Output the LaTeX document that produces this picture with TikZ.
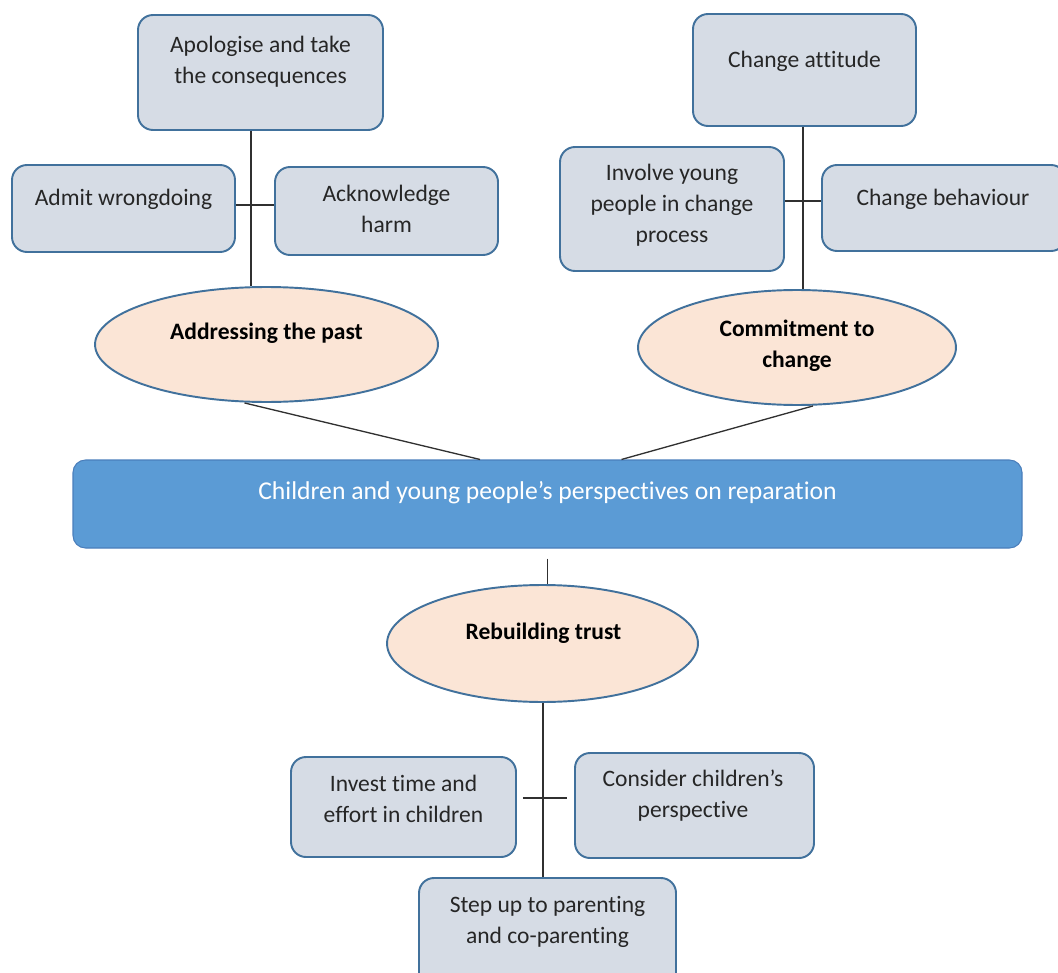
\documentclass[tikz,border=0pt]{standalone}
\usepackage{fontspec}
\setmainfont[Ligatures=NoCommon]{Carlito}
\usetikzlibrary{shapes.geometric,fit}
\definecolor{boxfill}{HTML}{D6DCE5}
\definecolor{boxedge}{HTML}{41719C}
\definecolor{ellfill}{HTML}{FBE5D6}
\definecolor{mainfill}{HTML}{5B9BD5}
\definecolor{mainedge}{HTML}{4A7EBB}
\definecolor{linecol}{HTML}{303030}
\begin{document}
\begin{tikzpicture}[x=0.02cm,y=-0.02cm,
 box/.style={draw=boxedge, fill=boxfill, line width=1.1pt, rounded corners=0.3cm, inner sep=0pt},
 oval/.style={ellipse, draw=boxedge, fill=ellfill, line width=1.1pt, inner sep=0pt},
 mainbox/.style={draw=mainedge, fill=mainfill, line width=0.6pt, rounded corners=0.25cm, inner sep=0pt},
 lbl/.style={font=\fontsize{13.4}{17.6}\selectfont, align=center, inner sep=0pt, text=black!85},
 blbl/.style={lbl, font=\fontsize{13.4}{17.6}\selectfont\bfseries, text=black},
 conn/.style={draw=linecol, line width=0.75pt}]
\useasboundingbox (0,0) rectangle (1058,973);

% top-left group
\node[box, fit={(138,15) (383,130)}] (apol) {};
\node[lbl] (apolt) at (260.5,62) {Apologise and take\\the consequences};
\node[box, fit={(12,165) (235,252)}] (admit) {};
\node[lbl] (admitt) at (123.5,199) {Admit wrongdoing};
\node[box, fit={(275,167) (498,255)}] (ackn) {};
\node[lbl] (acknt) at (386.5,209) {Acknowledge\\harm};
\node[oval, minimum width=6.86cm, minimum height=2.3cm] (addr) at (266.5,344.5) {};
\node[blbl] (addrt) at (266.5,333) {Addressing the past};

% top-right group
\node[box, fit={(693,14) (916,126)}] (attitude) {};
\node[lbl] (attitudet) at (804.5,61) {Change attitude};
\node[box, fit={(560,147) (784,271)}] (involve) {};
\node[lbl] (involvet) at (672,205) {Involve young\\people in change\\process};
\node[box, fit={(822,165) (1066,251)}] (behav) {};
\node[lbl] (behavt) at (943,199) {Change behaviour};
\node[oval, minimum width=6.36cm, minimum height=2.3cm] (commit) at (797,347.5) {};
\node[blbl] (committ) at (797,346) {Commitment to\\change};

% central
\node[mainbox, fit={(73,460) (1022,548)}] (central) {};
\node[lbl, font=\fontsize{14.6}{17.6}\selectfont, text=white] (centralt) at (547.5,493) {Children and young people’s perspectives on reparation};

% bottom group
\node[oval, minimum width=6.22cm, minimum height=2.34cm] (rebuild) at (542.5,643.5) {};
\node[blbl] (rebuildt) at (543.5,633) {Rebuilding trust};
\node[box, fit={(291,757) (516,857)}] (invest) {};
\node[lbl] (investt) at (403.5,799) {Invest time and\\effort in children};
\node[box, fit={(575,753) (814,858)}] (consider) {};
\node[lbl] (considert) at (693,796) {Consider children’s\\perspective};
\node[box, fit={(419,878) (676,990)}] (stepup) {};
\node[lbl] (stepupt) at (547.5,922) {Step up to parenting\\and co-parenting};

% connectors
\coordinate (jA) at (251,205);
\draw[conn] (apol.south -| jA) -- (addr.north -| jA);
\draw[conn] (admit.east |- jA) -- (ackn.west |- jA);
\coordinate (jB) at (803,201);
\draw[conn] (attitude.south -| jB) -- (commit.north -| jB);
\draw[conn] (involve.east |- jB) -- (behav.west |- jB);
\draw[conn] ([xshift=-0.44cm]addr.south) -- ([xshift=-1.35cm]central.north);
\draw[conn] ([xshift=0.32cm]commit.south) -- ([xshift=1.48cm]central.north);
\draw[conn, shorten <=0.2cm] (central.south) -- (central.south |- rebuild.north);
\coordinate (jC) at (543,798);
\draw[conn] (rebuild.south -| jC) -- (stepup.north -| jC);
\draw[conn, shorten <=0.12cm, shorten >=0.15cm] (invest.east |- jC) -- (consider.west |- jC);
\end{tikzpicture}
\end{document}
